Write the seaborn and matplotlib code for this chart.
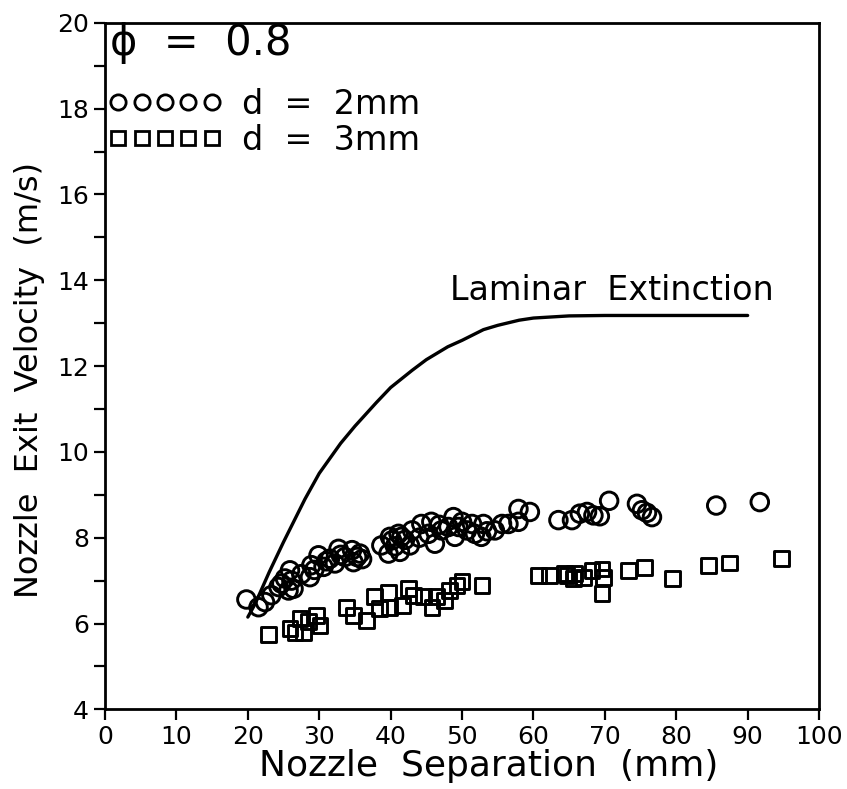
import numpy as np
import pandas as pd
import matplotlib
matplotlib.use("Agg")
import matplotlib.pyplot as plt
from matplotlib.lines import Line2D
from matplotlib.ticker import MultipleLocator
import seaborn as sns

# d = 2mm (circles)
sep_2mm = [19.8, 21.5, 22.4, 23.3, 24.3, 25.2, 25.9, 25.7, 26.4, 24.7, 26.1, 28.7, 28.9,
           29.9, 30.6, 31.5, 32.2, 32.7, 33.6, 34.6, 34.8, 35.7, 36.0, 38.7, 39.7, 39.9,
           40.2, 40.6, 41.1, 41.3, 41.5, 42.7, 43.0, 44.3, 45.3, 45.7, 46.2, 47.1, 48.1,
           48.8, 49.0, 50.0, 50.7, 51.4, 51.8, 52.7, 53.0, 54.6, 55.6, 56.5, 57.9, 57.9,
           59.5, 63.5, 65.4, 66.5, 67.5, 68.4, 69.3, 70.6, 74.5, 75.2, 75.9, 76.6, 85.6, 91.7,
           27.5, 29.3, 31.0, 33.0, 35.3, 42.0, 44.0, 46.8, 49.5, 53.5]
vel_2mm = [6.56, 6.38, 6.50, 6.66, 6.85, 7.05, 7.24, 6.77, 6.81, 6.93, 7.00, 7.08, 7.36,
           7.59, 7.32, 7.51, 7.40, 7.74, 7.55, 7.71, 7.43, 7.63, 7.50, 7.82, 7.63, 8.02,
           7.94, 7.80, 8.09, 7.67, 8.02, 7.82, 8.17, 8.32, 8.09, 8.37, 7.86, 8.17, 8.25,
           8.48, 8.02, 8.37, 8.17, 8.32, 8.09, 8.02, 8.32, 8.17, 8.32, 8.32, 8.67, 8.37,
           8.60, 8.41, 8.41, 8.56, 8.60, 8.52, 8.50, 8.86, 8.79, 8.64, 8.58, 8.48, 8.75, 8.83,
           7.15, 7.25, 7.45, 7.60, 7.55, 7.95, 8.00, 8.30, 8.25, 8.15]

# d = 3mm (squares)
sep_3mm = [22.9, 25.9, 26.6, 27.3, 27.8, 28.5, 29.6, 30.1, 33.8, 34.8, 36.6, 37.8, 38.5,
           39.7, 39.9, 41.6, 42.5, 43.2, 44.6, 45.8, 46.4, 47.6, 48.3, 49.3, 50.0, 52.8,
           60.7, 62.3, 64.4, 64.7, 65.6, 65.8, 67.0, 68.2, 69.6, 69.8, 69.6, 73.3, 75.6,
           79.5, 84.5, 87.4, 94.8]
vel_3mm = [5.74, 5.88, 5.80, 6.11, 5.80, 6.04, 6.19, 5.96, 6.38, 6.19, 6.07, 6.62, 6.35,
           6.73, 6.38, 6.42, 6.81, 6.66, 6.62, 6.38, 6.62, 6.54, 6.77, 6.89, 6.97, 6.89,
           7.12, 7.12, 7.16, 7.12, 7.05, 7.16, 7.08, 7.24, 7.27, 7.08, 6.69, 7.24, 7.30,
           7.04, 7.36, 7.41, 7.51]

# laminar extinction curve
lam_sep = [20, 21, 23, 25, 28, 30, 33, 35, 38, 40, 43, 45, 48, 50, 53, 55, 58, 60, 63, 65, 70, 80, 90]
lam_vel = [6.15, 6.45, 7.2, 7.9, 8.9, 9.5, 10.2, 10.6, 11.15, 11.5, 11.9, 12.15, 12.45,
           12.6, 12.85, 12.95, 13.07, 13.12, 13.15, 13.17, 13.18, 13.18, 13.18]

df2 = pd.DataFrame({"sep": sep_2mm, "vel": vel_2mm})
df3 = pd.DataFrame({"sep": sep_3mm, "vel": vel_3mm})
lam = pd.DataFrame({"sep": lam_sep, "vel": lam_vel})

sns.set_style("ticks")
plt.rcParams['font.family'] = ['DejaVu Sans']
plt.rcParams.update({"text.color": "black", "axes.labelcolor": "black",
                     "xtick.color": "black", "ytick.color": "black"})

fig = plt.figure(figsize=(8.47, 7.89), dpi=100)
ax = fig.add_axes([0.124, 0.101, 0.843, 0.870])

sns.lineplot(data=lam, x="sep", y="vel", color="black", linewidth=2.4, estimator=None, ax=ax)
sns.scatterplot(data=df2, x="sep", y="vel", marker="o", s=160, facecolor="none",
                edgecolor="black", linewidth=2.1, ax=ax)
sns.scatterplot(data=df3, x="sep", y="vel", marker="s", s=115, facecolor="none",
                edgecolor="black", linewidth=2.1, ax=ax)

ax.text(71, 13.77, "Laminar  Extinction", fontsize=24, ha="center", va="center")

ax.set_xlim(0, 100)
ax.set_ylim(4, 20)
ax.xaxis.set_major_locator(MultipleLocator(10))
ax.yaxis.set_major_locator(MultipleLocator(2))
ax.yaxis.set_minor_locator(MultipleLocator(1))
ax.tick_params(axis="both", which="both", direction="out", length=8, width=1.6,
               labelsize=18, top=False, right=False)
for s in ax.spines.values():
    s.set_linewidth(2)
    s.set_color("black")

ax.set_xlabel("Nozzle  Separation  (mm)", fontsize=26)
ax.xaxis.set_label_coords(0.538, -0.058, transform=ax.transAxes)
ax.xaxis.label.set_va("top")
ax.set_ylabel("Nozzle  Exit  Velocity  (m/s)", fontsize=23)
ax.yaxis.set_label_coords(-0.084, 0.48, transform=ax.transAxes)

ax.text(0.007, 0.97, "ϕ  =  0.8", fontsize=30, ha="left", va="center", transform=ax.transAxes)

handles = [
    Line2D([], [], marker="o", ls="none", mfc="none", mec="black", ms=11, mew=2.0),
    Line2D([], [], marker="s", ls="none", mfc="none", mec="black", ms=10, mew=2.0),
]
leg = ax.legend(handles, ["d  =  2mm", "d  =  3mm"], loc="upper left",
                bbox_to_anchor=(0.0, 0.91), numpoints=5,
                handlelength=3.4, handletextpad=0.6, frameon=False, fontsize=24,
                borderaxespad=0.0, borderpad=0.1, labelspacing=0.08)

fig.savefig("out.png", dpi=100, facecolor="white")
